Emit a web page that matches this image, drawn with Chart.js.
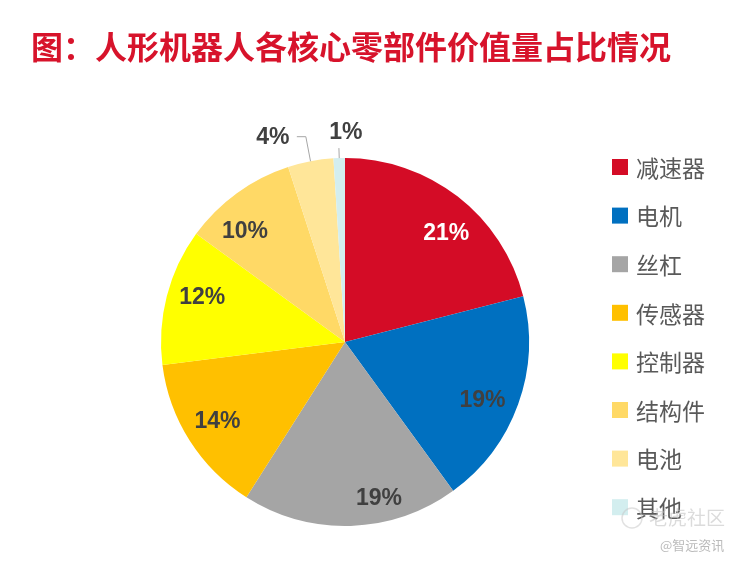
<!DOCTYPE html>
<html lang="zh">
<head>
  <meta charset="UTF-8">
  <title>人形机器人各核心零部件价值量占比情况</title>
  <script src="https://cdn.jsdelivr.net/npm/chart.js"></script>
  <style>
    body {
      margin: 0;
      background-color: #ffffff;
    }
    .chart-container {
      position: relative;
      width: 737px;
      height: 561px;
    }
  </style>
</head>
<body>
  <div class="chart-container">
    <canvas id="pieChart"></canvas>
  </div>

  <script>
    // Data
    const chartTitle = '图：人形机器人各核心零部件价值量占比情况';
    const parts = ['减速器', '电机', '丝杠', '传感器', '控制器', '结构件', '电池', '其他'];
    const shares = [21, 19, 19, 14, 12, 10, 4, 1];

    // Styles
    const sliceColors = ['#D40C26', '#0070C0', '#A5A5A5', '#FFC000', '#FFFF00', '#FFD966', '#FFE699', '#D3EEEF'];
    const labelColors = ['#FFFFFF', '#404040', '#404040', '#404040', '#404040', '#404040', '#404040', '#404040'];
    // inside labels: radius fraction and angle nudge (deg); outside labels use leader lines
    const labelRadius = [0.81, 0.81, 0.865, 0.815, 0.815, 0.815];
    const labelNudge = [5, 3, -10.5, 0.7, 3.4, -5.8];
    const outside = {
      6: { ext: 25, hor: -9, dx: -24, dy: 0 },
      7: { ext: 10, hor: 0, dx: 7, dy: -16 }
    };

    // Data labels, leader lines, legend, title
    const decorPlugin = {
      id: 'decor',
      afterDraw(chart) {
        const ctx = chart.ctx;
        const meta = chart.getDatasetMeta(0);
        ctx.save();

        // title
        ctx.fillStyle = '#D7132B';
        ctx.font = 'bold 32px "Noto Sans CJK SC", sans-serif';
        ctx.textAlign = 'left';
        ctx.textBaseline = 'middle';
        ctx.fillText(chartTitle, 31, 47);

        // percentage labels
        ctx.font = 'bold 23px "Liberation Sans", Arial, sans-serif';
        ctx.textAlign = 'center';
        meta.data.forEach((arc, i) => {
          const p = arc.getProps(['x', 'y', 'startAngle', 'endAngle', 'outerRadius'], true);
          const mid = (p.startAngle + p.endAngle) / 2;
          const text = shares[i] + '%';
          if (outside[i]) {
            const o = outside[i];
            const ex = p.x + Math.cos(mid) * p.outerRadius;
            const ey = p.y + Math.sin(mid) * p.outerRadius;
            const kx = p.x + Math.cos(mid) * (p.outerRadius + o.ext);
            const ky = p.y + Math.sin(mid) * (p.outerRadius + o.ext);
            ctx.strokeStyle = '#A6A6A6';
            ctx.lineWidth = 1;
            ctx.beginPath();
            ctx.moveTo(ex, ey);
            ctx.lineTo(kx, ky);
            ctx.lineTo(kx + o.hor, ky);
            ctx.stroke();
            ctx.fillStyle = labelColors[i];
            ctx.fillText(text, kx + o.hor + o.dx, ky + o.dy + 1);
          } else {
            const a = mid + labelNudge[i] * Math.PI / 180;
            const r = p.outerRadius * labelRadius[i];
            ctx.fillStyle = labelColors[i];
            ctx.fillText(text, p.x + Math.cos(a) * r, p.y + Math.sin(a) * r + 1);
          }
        });

        // legend
        ctx.textAlign = 'left';
        ctx.font = '23px "Noto Sans CJK SC", sans-serif';
        parts.forEach((name, i) => {
          const y = 167 + i * 48.6;
          ctx.fillStyle = sliceColors[i];
          ctx.fillRect(612, y - 8, 16, 16);
          ctx.fillStyle = '#595959';
          ctx.fillText(name, 636, y + 1);
        });

        // watermark
        ctx.globalAlpha = 0.55;
        ctx.strokeStyle = '#C8C8C8';
        ctx.lineWidth = 1.5;
        ctx.beginPath();
        ctx.arc(632, 518, 10, 0, Math.PI * 2);
        ctx.stroke();
        ctx.fillStyle = '#BDBDBD';
        ctx.font = '19px "Noto Sans CJK SC", sans-serif';
        ctx.fillText('老虎社区', 649, 518);
        ctx.globalAlpha = 0.9;
        ctx.fillStyle = '#B4B4B4';
        ctx.font = '13px "Noto Sans CJK SC", sans-serif';
        ctx.fillText('@智远资讯', 660, 545);
        ctx.restore();
      }
    };

    const ctx = document.getElementById('pieChart').getContext('2d');
    new Chart(ctx, {
      type: 'pie',
      data: {
        labels: parts,
        datasets: [{
          data: shares,
          backgroundColor: sliceColors,
          borderWidth: 0,
          hoverOffset: 0,
          offset: 0
        }]
      },
      options: {
        responsive: true,
        maintainAspectRatio: false,
        animation: false,
        layout: {
          padding: { left: 161, right: 208, top: 158, bottom: 35 }
        },
        plugins: {
          legend: { display: false },
          title: { display: false },
          tooltip: { enabled: false }
        }
      },
      plugins: [decorPlugin]
    });
  </script>
</body>
</html>
